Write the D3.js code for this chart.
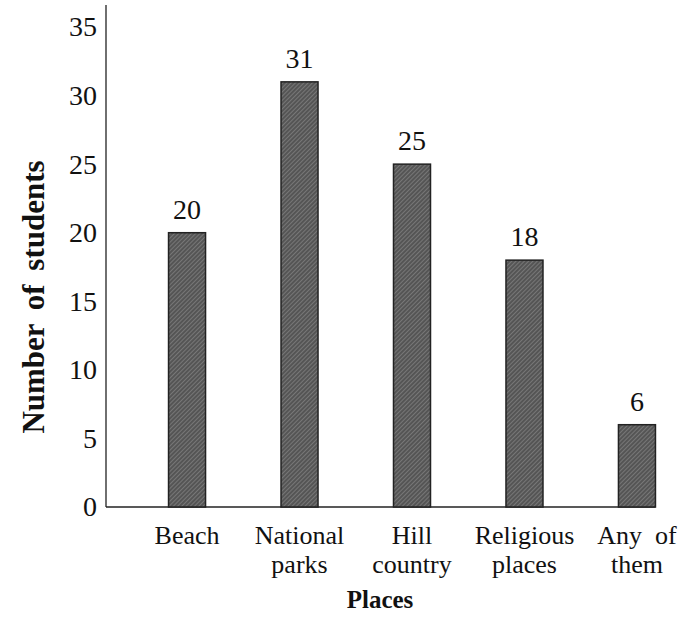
<!DOCTYPE html>
<html>
<head>
<meta charset="utf-8">
<script src="https://cdn.jsdelivr.net/npm/d3@7.9.0/dist/d3.min.js"></script>
<style>
  body { margin: 0; background: #fff; }
  svg text { font-family: "Liberation Serif", "Times New Roman", "DejaVu Serif", serif; fill: #111; }
</style>
</head>
<body>
<svg id="chart" width="682" height="626"></svg>
<script>
// data
const places = ["Beach", "National parks", "Hill country", "Religious places", "Any of them"];
const placeLines = [["Beach"], ["National", "parks"], ["Hill", "country"], ["Religious", "places"], ["Any  of", "them"]];
const students = [20, 31, 25, 18, 6];
const yTicks = [0, 5, 10, 15, 20, 25, 30, 35];

const data = places.map((p, i) => ({ place: p, lines: placeLines[i], value: students[i] }));

const svg = d3.select('#chart');

const x = d3.scaleBand()
  .domain(places)
  .range([106, 718])
  .paddingInner(0.671)
  .paddingOuter(0.556);

const y = d3.scaleLinear()
  .domain([0, 35])
  .range([507, 27]);

// grainy fill for the bars
const defs = svg.append('defs');
const pat = defs.append('pattern')
  .attr('id', 'grain')
  .attr('patternUnits', 'userSpaceOnUse')
  .attr('width', 3).attr('height', 3)
  .attr('patternTransform', 'rotate(45)');
pat.append('rect').attr('width', 3).attr('height', 3).attr('fill', '#555');
pat.append('rect').attr('width', 1).attr('height', 3).attr('fill', '#777');

// y axis: line only, no tick marks
const yAxis = svg.append('g')
  .attr('transform', 'translate(106,0)')
  .call(d3.axisLeft(y).tickValues(yTicks).tickSize(0).tickPadding(9));
yAxis.select('.domain').attr('d', `M0,5V${y(0)}`).attr('stroke', '#222').attr('stroke-width', 1.3);
yAxis.selectAll('.tick text')
  .attr('font-size', 28)
  .attr('fill', '#111');

// x axis line
svg.append('line')
  .attr('x1', 106).attr('x2', x(places[places.length - 1]) + x.bandwidth())
  .attr('y1', y(0)).attr('y2', y(0))
  .attr('stroke', '#222').attr('stroke-width', 1.3);

// bars
svg.selectAll('rect.bar')
  .data(data)
  .join('rect')
  .attr('class', 'bar')
  .attr('x', d => x(d.place))
  .attr('y', d => y(d.value))
  .attr('width', x.bandwidth())
  .attr('height', d => y(0) - y(d.value))
  .attr('fill', 'url(#grain)')
  .attr('stroke', '#222')
  .attr('stroke-width', 1.5);

// value labels
svg.selectAll('text.val')
  .data(data)
  .join('text')
  .attr('class', 'val')
  .attr('x', d => x(d.place) + x.bandwidth() / 2)
  .attr('y', d => y(d.value) - 14)
  .attr('text-anchor', 'middle')
  .attr('font-size', 28)
  .text(d => d.value);

// category labels
const cat = svg.selectAll('text.cat')
  .data(data)
  .join('text')
  .attr('class', 'cat')
  .attr('text-anchor', 'middle')
  .attr('font-size', 26)
  .attr('transform', d => `translate(${x(d.place) + x.bandwidth() / 2},544)`);
cat.selectAll('tspan')
  .data(d => d.lines)
  .join('tspan')
  .attr('x', 0)
  .attr('dy', (d, i) => i === 0 ? 0 : 29)
  .style('white-space', 'pre')
  .text(d => d);

// axis titles
svg.append('text')
  .attr('x', 380).attr('y', 608)
  .attr('text-anchor', 'middle')
  .attr('font-size', 25)
  .attr('font-weight', 'bold')
  .text('Places');

svg.append('text')
  .attr('transform', 'translate(44,297) rotate(-90)')
  .attr('text-anchor', 'middle')
  .attr('font-size', 31)
  .attr('font-weight', 'bold')
  .attr('word-spacing', 6)
  .text('Number of students');
</script>
</body>
</html>
